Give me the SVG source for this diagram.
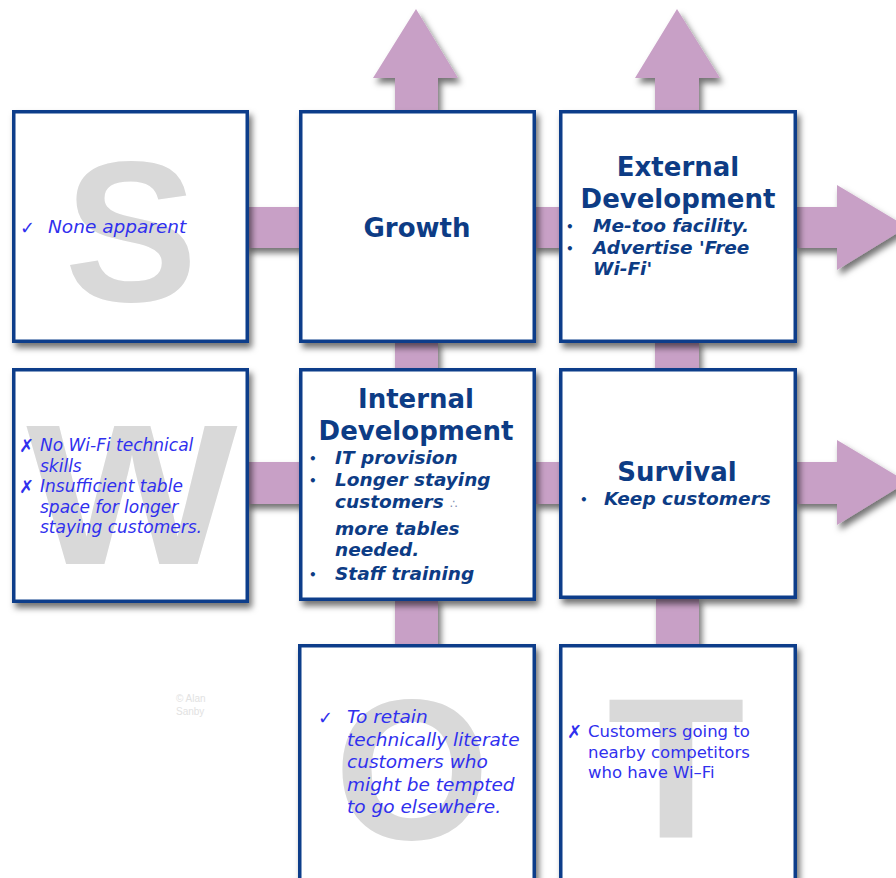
<svg xmlns="http://www.w3.org/2000/svg" width="896" height="878" viewBox="0 0 896 878">
<defs>
<filter id="sh" x="-10%" y="-10%" width="130%" height="130%">
<feDropShadow dx="3" dy="5" stdDeviation="3" flood-color="#000" flood-opacity="0.55"/>
</filter>
<style>
.arr{fill:#c8a0c6;}
.box{fill:#fff;stroke:#0b3c8a;stroke-width:3.5;}
.big{font-family:"Liberation Sans",Arial,sans-serif;font-weight:bold;font-size:200px;fill:#d9d9d9;text-anchor:middle;}
.title{font-family:"DejaVu Sans",Verdana,sans-serif;font-weight:bold;font-size:26px;fill:#0d3c85;text-anchor:middle;}
.bul{font-family:"DejaVu Sans",Verdana,sans-serif;font-weight:bold;font-style:italic;font-size:18.5px;fill:#0d3c85;}
.dot{font-family:"DejaVu Sans",Verdana,sans-serif;font-weight:bold;font-size:12px;fill:#0d3c85;}
.pos{font-family:"DejaVu Sans",Verdana,sans-serif;font-style:italic;font-size:18.5px;fill:#3030ee;}
.wk{font-family:"DejaVu Sans",Verdana,sans-serif;font-style:italic;font-size:17px;fill:#3030ee;}
.th{font-family:"DejaVu Sans",Verdana,sans-serif;font-size:16.5px;fill:#3030ee;}
.sym{font-family:"DejaVu Sans",sans-serif;font-size:18px;font-weight:bold;fill:#3030ee;}
.copy{font-family:"Liberation Sans",Arial,sans-serif;font-size:10px;fill:#e2e2e2;}
</style>
</defs>
<rect width="896" height="878" fill="#fff"/>
<g id="connectors" filter="url(#sh)">
<polygon class="arr" points="395,112 395,78 373,78 416,9 458,78 438,78 438,112"/>
<polygon class="arr" points="655,112 655,78 635,78 677,9 720,78 699,78 699,112"/>
<polygon class="arr" points="795,207 837,207 837,185 907,227 837,270 837,248 795,248"/>
<polygon class="arr" points="795,462 837,462 837,440 907,482 837,525 837,504 795,504"/>
<rect class="arr" x="246" y="207" width="56" height="41"/>
<rect class="arr" x="533" y="207" width="28" height="41"/>
<rect class="arr" x="246" y="462" width="56" height="42"/>
<rect class="arr" x="534" y="462" width="28" height="42"/>
<rect class="arr" x="395" y="340" width="43" height="31"/>
<rect class="arr" x="655" y="340" width="44" height="31"/>
<rect class="arr" x="395" y="598" width="43" height="49"/>
<rect class="arr" x="656" y="597" width="43" height="50"/>
</g>
<g id="node-s">
<rect class="box" x="13.75" y="111.75" width="233.5" height="229.5" filter="url(#sh)"/>
<text class="big" x="131" y="301">S</text>
<text class="sym" x="20" y="234">✓</text>
<text class="pos" x="48" y="233">None apparent</text>
</g>
<g id="node-growth">
<rect class="box" x="300.75" y="111.75" width="233.5" height="229.5" filter="url(#sh)"/>
<text class="title" x="417" y="237">Growth</text>
</g>
<g id="node-external">
<rect class="box" x="560.75" y="111.75" width="234.5" height="229.5" filter="url(#sh)"/>
<text class="title" x="678" y="176">External</text>
<text class="title" x="678" y="208">Development</text>
<text class="dot" x="566" y="231">•</text>
<text class="bul" x="593" y="232">Me-too facility.</text>
<text class="dot" x="566" y="253">•</text>
<text class="bul" x="593" y="254">Advertise 'Free</text>
<text class="bul" x="593" y="275">Wi-Fi'</text>
</g>
<g id="node-w">
<rect class="box" x="13.75" y="369.75" width="233.5" height="231.5" filter="url(#sh)"/>
<text class="big" transform="translate(132,564) scale(1.12,1)">W</text>
<text class="sym" x="19" y="452">✗</text>
<text class="wk" x="40" y="451">No Wi-Fi technical</text>
<text class="wk" x="40" y="472">skills</text>
<text class="sym" x="19" y="493">✗</text>
<text class="wk" x="40" y="492">Insufficient table</text>
<text class="wk" x="40" y="513">space for longer</text>
<text class="wk" x="40" y="533">staying customers.</text>
</g>
<g id="node-internal">
<rect class="box" x="300.75" y="369.75" width="233.5" height="229.5" filter="url(#sh)"/>
<text class="title" x="416" y="408">Internal</text>
<text class="title" x="416" y="440">Development</text>
<text class="dot" x="309" y="463">•</text>
<text class="bul" x="335" y="464">IT provision</text>
<text class="dot" x="309" y="485">•</text>
<text class="bul" x="335" y="486">Longer staying</text>
<text class="bul" x="335" y="508">customers <tspan font-size="12" font-style="normal" font-weight="normal" fill="#7d8db0">∴</tspan></text>
<text class="bul" x="335" y="535">more tables</text>
<text class="bul" x="335" y="556">needed.</text>
<text class="dot" x="309" y="579">•</text>
<text class="bul" x="335" y="580">Staff training</text>
</g>
<g id="node-survival">
<rect class="box" x="560.75" y="369.75" width="234.5" height="227.5" filter="url(#sh)"/>
<text class="title" x="677" y="481">Survival</text>
<text class="dot" x="580" y="504">•</text>
<text class="bul" x="604" y="505">Keep customers</text>
</g>
<g id="node-o">
<rect class="box" x="299.75" y="645.75" width="234.5" height="240" filter="url(#sh)"/>
<text class="big" x="412" y="839">O</text>
<text class="sym" x="318" y="724">✓</text>
<text class="pos" x="347" y="723">To retain</text>
<text class="pos" x="347" y="746">technically literate</text>
<text class="pos" x="347" y="768">customers who</text>
<text class="pos" x="347" y="791">might be tempted</text>
<text class="pos" x="347" y="813">to go elsewhere.</text>
</g>
<g id="node-t">
<rect class="box" x="560.75" y="645.75" width="234.5" height="240" filter="url(#sh)"/>
<text class="big" transform="translate(676,838) scale(1.13,1)">T</text>
<text class="sym" x="567" y="738">✗</text>
<text class="th" x="588" y="737">Customers going to</text>
<text class="th" x="588" y="758">nearby competitors</text>
<text class="th" x="588" y="778">who have Wi–Fi</text>
</g>
<g id="copyright">
<text class="copy" x="176" y="702">© Alan</text>
<text class="copy" x="176" y="715">Sanby</text>
</g>
</svg>
